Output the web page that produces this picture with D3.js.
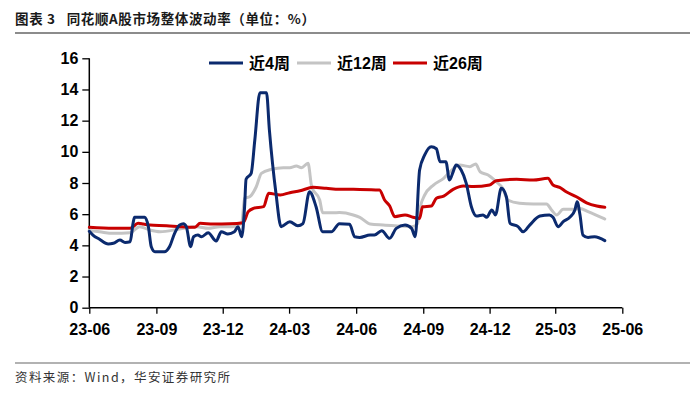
<!DOCTYPE html>
<html><head><meta charset="utf-8">
<script src="https://cdn.jsdelivr.net/npm/d3@7"></script>
<style>
body{margin:0;background:#fff;}
svg{display:block;}
</style></head>
<body>
<svg id="c" width="700" height="400"></svg>
<script>
const titleText = "图表 3   同花顺A股市场整体波动率（单位：%）";
const sourceText = "资料来源：Wind，华安证券研究所";
const seriesNames = ["近4周", "近12周", "近26周"];
const seriesColors = ["#0B2a6e", "#C4C4C4", "#C80000"];
const yTicks = [0, 2, 4, 6, 8, 10, 12, 14, 16];
const xTickDates = ["2023-06-01","2023-09-01","2023-12-01","2024-03-01","2024-06-01","2024-09-01","2024-12-01","2025-03-01","2025-06-01"];
const xTickLabels = ["23-06","23-09","23-12","24-03","24-06","24-09","24-12","25-03","25-06"];

const week4 = [
["2023-06-01",4.9],["2023-06-06",4.66],["2023-06-15",4.39],["2023-06-27",4.09],["2023-07-04",4.13],["2023-07-13",4.34],["2023-07-20",4.19],["2023-07-27",4.23],["2023-07-31",5.41],["2023-08-02",5.8],["2023-08-16",5.8],["2023-08-21",5.2],["2023-08-25",3.91],["2023-08-30",3.59],["2023-09-12",3.59],["2023-09-19",3.91],["2023-09-26",4.77],["2023-10-03",5.3],["2023-10-08",5.38],["2023-10-12",5.2],["2023-10-18",3.91],["2023-10-22",4.55],["2023-10-28",4.66],["2023-11-02",4.55],["2023-11-11",4.81],["2023-11-22",4.28],["2023-11-29",4.87],["2023-12-08",4.73],["2023-12-17",4.87],["2023-12-22",5.2],["2023-12-27",4.55],["2023-12-31",6.48],["2024-01-02",8.24],["2024-01-09",8.62],["2024-01-14",10.76],["2024-01-21",13.79],["2024-01-30",13.79],["2024-02-03",11.4],["2024-02-12",7.34],["2024-02-19",5.2],["2024-03-02",5.52],["2024-03-13",5.26],["2024-03-20",5.4],["2024-03-29",7.44],["2024-04-07",6.48],["2024-04-16",4.87],["2024-04-28",4.87],["2024-05-09",5.39],["2024-05-23",5.35],["2024-05-30",4.55],["2024-06-06",4.51],["2024-06-20",4.66],["2024-06-26",4.66],["2024-07-06",4.94],["2024-07-17",4.45],["2024-07-26",5.09],["2024-08-07",5.3],["2024-08-16",5.09],["2024-08-21",4.55],["2024-08-27",8.83],["2024-09-03",9.8],["2024-09-12",10.33],["2024-09-19",10.2],["2024-09-24",9.37],["2024-10-02",9.37],["2024-10-07",8.19],["2024-10-12",8.72],["2024-10-16",9.15],["2024-10-23",8.83],["2024-10-30",7.98],["2024-11-06",6.48],["2024-11-13",5.88],["2024-11-22",5.95],["2024-11-27",5.8],["2024-12-04",6.27],["2024-12-09",5.95],["2024-12-17",7.66],["2024-12-24",7.12],["2024-12-29",5.41],["2025-01-09",5.2],["2025-01-16",4.87],["2025-01-25",5.3],["2025-02-08",5.88],["2025-02-21",5.95],["2025-02-26",5.8],["2025-03-05",5.2],["2025-03-12",5.52],["2025-03-21",5.8],["2025-03-28",6.27],["2025-03-31",6.8],["2025-04-04",5.95],["2025-04-08",4.66],["2025-04-15",4.51],["2025-04-24",4.55],["2025-05-08",4.3]
];
const week12 = [
["2023-06-01",4.95],["2023-06-15",4.87],["2023-07-04",4.77],["2023-07-27",4.81],["2023-08-09",5.2],["2023-08-23",4.98],["2023-09-06",4.87],["2023-10-03",5.05],["2023-10-26",5.2],["2023-11-11",5.09],["2023-11-27",5.2],["2023-12-15",5.2],["2023-12-27",5.41],["2023-12-31",7.02],["2024-01-07",7.12],["2024-01-16",7.76],["2024-01-23",8.62],["2024-02-06",8.88],["2024-02-22",8.98],["2024-03-02",8.98],["2024-03-11",9.09],["2024-03-18",8.98],["2024-03-27",9.26],["2024-04-01",7.76],["2024-04-12",6.91],["2024-04-16",6.09],["2024-04-30",6.09],["2024-05-09",6.1],["2024-05-28",5.95],["2024-06-06",5.8],["2024-06-20",5.37],["2024-07-08",5.3],["2024-07-31",5.24],["2024-08-16",5.2],["2024-08-24",5.37],["2024-08-28",6.48],["2024-09-03",7.23],["2024-09-15",7.87],["2024-09-29",8.3],["2024-10-10",8.83],["2024-10-21",9.15],["2024-11-04",9.05],["2024-11-12",9.22],["2024-11-18",8.72],["2024-11-29",8.51],["2024-12-10",8.08],["2024-12-19",7.66],["2024-12-26",6.91],["2025-01-11",6.7],["2025-01-30",6.65],["2025-02-17",6.65],["2025-02-24",6.27],["2025-03-03",5.95],["2025-03-12",6.31],["2025-03-26",6.31],["2025-04-04",6.37],["2025-04-15",6.16],["2025-05-08",5.69]
];
const week26 = [
["2023-06-01",5.16],["2023-07-04",5.09],["2023-07-27",5.09],["2023-08-07",5.41],["2023-08-14",5.37],["2023-08-23",5.3],["2023-09-15",5.26],["2023-10-03",5.2],["2023-10-24",5.16],["2023-10-31",5.41],["2023-11-18",5.37],["2023-12-11",5.38],["2023-12-29",5.45],["2024-01-05",6.16],["2024-01-12",6.37],["2024-01-26",6.48],["2024-02-02",7.34],["2024-02-18",7.23],["2024-03-02",7.38],["2024-03-16",7.5],["2024-04-03",7.72],["2024-04-21",7.66],["2024-05-09",7.6],["2024-06-06",7.59],["2024-07-03",7.55],["2024-07-10",6.91],["2024-07-17",6.52],["2024-07-24",5.84],["2024-08-07",5.95],["2024-08-18",5.8],["2024-08-27",5.73],["2024-08-31",6.48],["2024-09-12",6.52],["2024-09-19",7.02],["2024-09-29",7.16],["2024-10-12",7.59],["2024-10-26",7.81],["2024-11-09",7.77],["2024-12-01",7.87],["2024-12-10",8.15],["2025-01-07",8.24],["2025-01-30",8.19],["2025-02-19",8.3],["2025-02-26",7.87],["2025-03-07",7.72],["2025-03-16",7.44],["2025-03-30",7.12],["2025-04-13",6.73],["2025-04-27",6.52],["2025-05-08",6.44]
];

const parse = d3.timeParse("%Y-%m-%d");
const svg = d3.select("#c");
const fontLatin = "'Liberation Sans', Arial, 'Noto Sans CJK SC', sans-serif";

// title
svg.append("text").attr("x", 15).attr("y", 24)
  .style("white-space", "pre")
  .attr("font-family", "'Noto Sans CJK SC', sans-serif").attr("font-weight", "bold")
  .attr("font-size", 13.5).attr("fill", "#1a1a1a")
  .attr("textLength", 300).attr("lengthAdjust", "spacing")
  .text(titleText);
svg.append("line").attr("x1", 15).attr("x2", 690).attr("y1", 33).attr("y2", 33)
  .attr("stroke", "#8c8c8c").attr("stroke-width", 2);

// footer
svg.append("line").attr("x1", 15).attr("x2", 690).attr("y1", 363).attr("y2", 363)
  .attr("stroke", "#666").attr("stroke-width", 1.2);
svg.append("text").attr("x", 15).attr("y", 382)
  .attr("font-family", "'Noto Sans CJK SC', sans-serif")
  .attr("font-size", 12.5).attr("fill", "#333")
  .attr("textLength", 215).attr("lengthAdjust", "spacing")
  .text(sourceText);

const x = d3.scaleTime().domain([parse("2023-06-01"), parse("2025-06-01")]).range([89.3, 622.3]);
const y = d3.scaleLinear().domain([0, 16]).range([307.7, 58.3]);

// y axis
const gy = svg.append("g").attr("transform", "translate(89.3,0)")
  .call(d3.axisLeft(y).tickValues(yTicks).tickSize(7).tickPadding(4));
gy.selectAll("text").attr("font-family", fontLatin).attr("font-weight", "bold").attr("font-size", 16).attr("fill", "#000");
gy.selectAll("line").attr("stroke", "#000").attr("stroke-width", 1.3);
gy.select(".domain").attr("stroke", "#000").attr("stroke-width", 1.5).attr("d", "M0,58.3V307.7");

// x axis
const gx = svg.append("g").attr("transform", "translate(0,307.7)")
  .call(d3.axisBottom(x).tickValues(xTickDates.map(parse)).tickFormat((d, i) => xTickLabels[i]).tickSize(6).tickPadding(10));
gx.selectAll("text").attr("font-family", fontLatin).attr("font-weight", "bold").attr("font-size", 16).attr("fill", "#000");
gx.selectAll("line").attr("stroke", "#000").attr("stroke-width", 1.3);
gx.select(".domain").attr("stroke", "#000").attr("stroke-width", 1.5).attr("d", "M89.3,0H622.3");

// lines
const line = d3.line().x(d => x(parse(d[0]))).y(d => y(d[1])).curve(d3.curveMonotoneX);
const allSeries = [week4, week12, week26];
const order = [1, 2, 0];
order.forEach(i => {
  svg.append("path").datum(allSeries[i]).attr("d", line)
    .attr("fill", "none").attr("stroke", seriesColors[i]).attr("stroke-width", 3)
    .attr("stroke-linejoin", "round").attr("stroke-linecap", "round");
});

// legend
const legendX = [209, 297, 393];
const lg = svg.append("g");
seriesNames.forEach((n, i) => {
  lg.append("line").attr("x1", legendX[i]).attr("x2", legendX[i] + 34).attr("y1", 63).attr("y2", 63)
    .attr("stroke", seriesColors[i]).attr("stroke-width", 3);
  lg.append("text").attr("x", legendX[i] + 40).attr("y", 69)
    .attr("font-family", fontLatin).attr("font-weight", "bold").attr("font-size", 16).attr("fill", "#000")
    .text(n);
});
</script>
</body></html>
